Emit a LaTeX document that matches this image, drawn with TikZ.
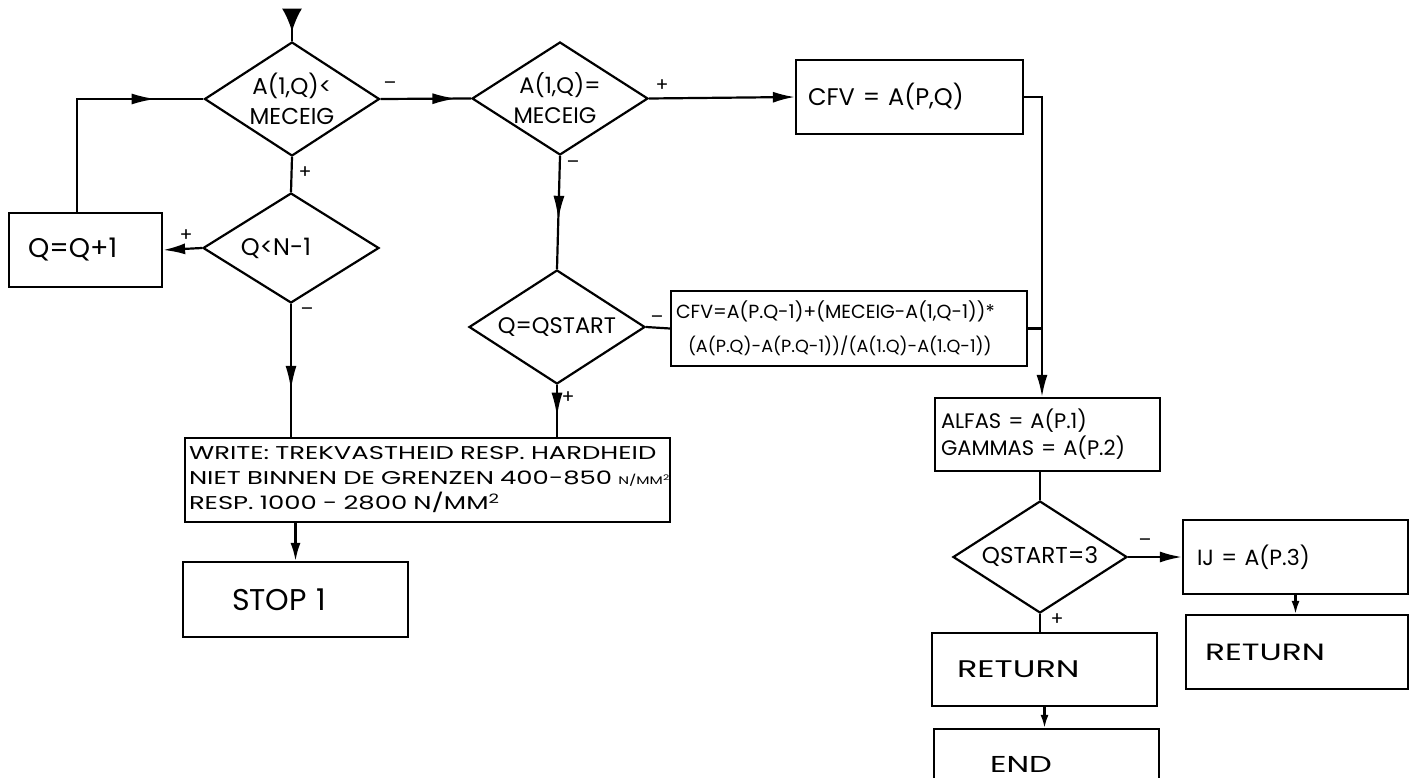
\documentclass[tikz,border=0pt]{standalone}
\usepackage{fontspec}
\setmainfont{Poppins}
\newfontfamily\widef[FakeStretch=1.4]{Poppins}
\usetikzlibrary{shapes.geometric,arrows.meta,decorations.markings}
\newcommand{\fz}[2]{\fontsize{#1}{#2}\selectfont}
\begin{document}
\begin{tikzpicture}[x=1pt,y=-1pt,
  conn/.style={line width=2.2pt},
  tipend/.style={conn,-{Latex[length=22pt,width=11pt]}},
  tipsmall/.style={conn,-{Latex[length=13pt,width=8pt]}},
  midarr/.style={conn,postaction={decorate},decoration={markings,mark=at position #1 with {\arrow{Latex[length=24pt,width=11pt]}}}},
  entryarr/.style={conn,postaction={decorate},decoration={markings,mark=at position 0.7 with {\arrow{Latex[length=23pt,width=20pt]}}}},
  dia/.style={draw,diamond,conn,inner sep=0pt,aspect=1.55,align=center,font=\fz{23}{30}},
  boxx/.style n args={4}{draw,rectangle,conn,inner ysep=0pt,inner xsep=#3,text width=#1,minimum height=#2,align=left,font=#4},
  lbl/.style={font=\fz{19}{19},inner sep=0pt}
]
\useasboundingbox (0,0) rectangle (1410,778);
\clip (0,0) rectangle (1410,778);

% decisions
\node[dia,minimum width=175pt,minimum height=114pt] (d1) at (292,99) {A(1,Q)<\\MECEIG};
\node[dia,minimum width=176pt,minimum height=110pt,font=\fz{24}{28}] (d3) at (291,248) {Q<N-1\hspace*{30pt}};
\node[dia,minimum width=176pt,minimum height=113pt,font=\fz{22.5}{30}] (d2) at (560,98.5) {A(1,Q)=\\MECEIG\hspace*{10pt}};
\node[dia,minimum width=176pt,minimum height=114pt,font=\fz{22.5}{26}] (d4) at (557,327) {Q=QSTART};
\node[dia,minimum width=174pt,minimum height=112pt,font=\fz{23}{26}] (d5) at (1040,557) {QSTART=3};

% boxes
\node[boxx={115pt}{74pt}{19pt}{\fz{27}{30}}] (qq) at (85.5,250) {Q=Q+1};
\node[boxx={203pt}{74pt}{12pt}{\fz{24}{28}}] (cfv) at (909.5,97) {CFV = A(P,Q)};
\node[boxx={346pt}{75pt}{5pt}{\fz{19}{34}}] (form) at (849,328.5) {\mbox{CFV=A(P.Q-1)+(MECEIG-A(1,Q-1))*}\\\mbox{\hspace*{12pt}\fz{17.6}{34}(A(P.Q)-A(P.Q-1))/(A(1.Q)-A(1.Q-1))}};
\node[boxx={213pt}{73pt}{6pt}{\fz{21}{27}}] (alfas) at (1047.5,434.5) {\mbox{ALFAS = A(P.1)}\\\mbox{GAMMAS = A(P.2)}};
\node[boxx={197pt}{74pt}{14pt}{\fz{22}{26}}] (ij) at (1295.5,557) {IJ = A(P.3)};
\node[boxx={175pt}{73pt}{25pt}{\widef\fz{24}{28}}] (r1) at (1044.5,669.5) {RETURN};
\node[boxx={184pt}{74pt}{19pt}{\widef\fz{23.5}{28}}] (r2) at (1297,652) {RETURN};
\node[boxx={113pt}{70pt}{56pt}{\widef\fz{23}{28}}] (endb) at (1046.5,764) {END};
\node[boxx={477pt}{84pt}{4pt}{\widef\fz{18.5}{25}}] (wr) at (427.5,480) {\mbox{WRITE: TREKVASTHEID RESP. HARDHEID}\\\mbox{NIET BINNEN DE GRENZEN 400-850 {\fz{11}{11}N/MM\textsuperscript{2}}}\\\mbox{RESP. 1000 - 2800 N/MM\textsuperscript{2}}};
\node[boxx={127pt}{75pt}{49pt}{\fz{30}{32}}] (stop) at (295.5,599.5) {STOP 1};

% connectors
\coordinate (entry) at (292,10);
\draw[entryarr] (entry) -- (d1.north);
\draw[conn] (d1.south) -- (d3.north);
\draw[midarr=0.84] (d1.east) -- (d2.west);
\draw[tipend] (d3.west) -- (qq.east);
\draw[midarr=0.8] ([xshift=-8.5pt]qq.north) |- (d1.west);
\draw[midarr=0.645] (d3.south) -- (d3.south |- wr.north);
\draw[midarr=0.565] (d2.south) -- (d4.north);
\draw[conn] (d4.east) -- (form.west);
\draw[midarr=0.61] (d4.south) -- (d4.south |- wr.north);
\draw[tipend] (d2.east) -- (cfv.west);
\coordinate (vtop) at ([xshift=-5.5pt]alfas.north);
\draw[tipend] (cfv.east) -| (vtop);
\draw[conn] (form.east) -- (form.east -| vtop);
\draw[conn] (alfas.south -| d5.north) -- (d5.north);
\draw[tipend] (d5.east) -- (ij.west);
\draw[conn] (d5.south) -- (d5.south |- r1.north);
\draw[tipsmall] (ij.south) -- (ij.south |- r2.north);
\draw[tipsmall] (r1.south) -- (r1.south |- endb.north);
\draw[{Latex[length=18pt,width=10pt]}-,conn] (stop.north) -- (stop.north |- wr.south);

% branch labels
\node[lbl] (l1) at (390,86) {–};
\node[lbl] (l2) at (305,173) {+};
\node[lbl] (l3) at (186,236) {+};
\node[lbl] (l4) at (307,312) {–};
\node[lbl] (l5) at (662,86) {+};
\node[lbl] (l6) at (573,165) {–};
\node[lbl] (l7) at (657,320) {–};
\node[lbl] (l8) at (568,398) {+};
\node[lbl] (l9) at (1145,543) {–};
\node[lbl] (l10) at (1057,620) {+};
\end{tikzpicture}
\end{document}
